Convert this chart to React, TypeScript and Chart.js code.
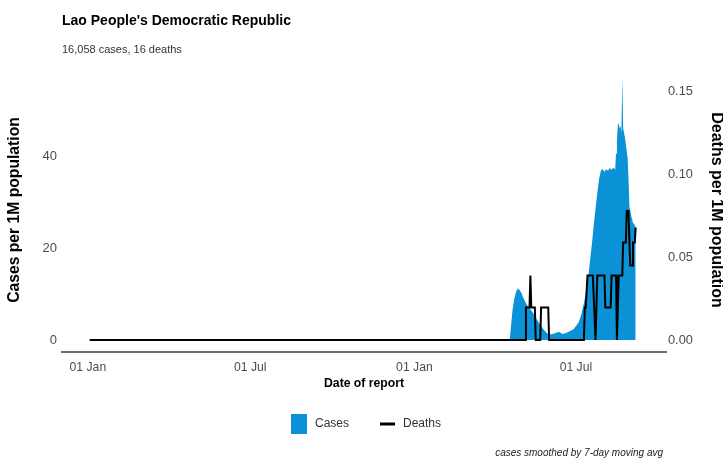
import React, { useEffect, useRef } from "react";
import { Chart, registerables } from "chart.js";

Chart.register(...registerables);

const TITLE = "Lao People's Democratic Republic";
const SUBTITLE = "16,058 cases, 16 deaths";
const CAPTION = "cases smoothed by 7-day moving avg";
const X_TITLE = "Date of report";
const Y_LEFT_TITLE = "Cases per 1M population";
const Y_RIGHT_TITLE = "Deaths per 1M population";

const ORIGIN_DATE = "2020-01-01";
const xTickDates = ["2020-01-01", "2020-07-01", "2021-01-01", "2021-07-01"];
const xTickLabels = ["01 Jan", "01 Jul", "01 Jan", "01 Jul"];
const leftTicks = [0, 20, 40];
const rightTicks = [0, 0.05, 0.1, 0.15];

const caseDates = [
  "2020-01-03", "2021-04-16", "2021-04-18", "2021-04-21", "2021-04-23", "2021-04-25",
  "2021-04-27", "2021-04-29", "2021-05-01", "2021-05-03", "2021-05-06", "2021-05-09",
  "2021-05-12", "2021-05-15", "2021-05-18", "2021-05-21", "2021-05-25", "2021-05-29",
  "2021-06-01", "2021-06-05", "2021-06-09", "2021-06-12", "2021-06-16", "2021-06-20",
  "2021-06-24", "2021-06-28", "2021-07-01", "2021-07-04", "2021-07-07", "2021-07-10",
  "2021-07-12", "2021-07-15", "2021-07-17", "2021-07-19", "2021-07-21", "2021-07-23",
  "2021-07-25", "2021-07-27", "2021-07-29", "2021-07-31", "2021-08-02", "2021-08-04",
  "2021-08-06", "2021-08-08", "2021-08-10", "2021-08-12", "2021-08-14", "2021-08-15",
  "2021-08-16", "2021-08-17", "2021-08-18", "2021-08-19", "2021-08-20", "2021-08-21",
  "2021-08-22", "2021-08-23", "2021-08-24", "2021-08-25", "2021-08-26", "2021-08-27",
  "2021-08-28", "2021-08-29", "2021-08-30", "2021-09-01", "2021-09-03", "2021-09-05",
  "2021-09-06",
];
const caseValues = [
  0, 0, 0.4, 6.5, 9.0, 10.5,
  11.2, 10.8, 10.2, 9.2, 8.0, 7.1,
  6.4, 5.6, 4.5, 3.6, 2.5, 1.6,
  1.2, 1.3, 1.6, 1.8, 1.3, 1.5,
  1.9, 2.3, 3.0, 3.8, 5.5, 8.0,
  10.0, 14.0, 17.5, 21.0, 25.0, 28.5,
  32.0, 35.0, 36.8, 37.2, 36.6, 37.1,
  36.8, 37.4, 37.0, 37.5, 37.0, 40.5,
  43.5, 46.5, 47.2, 46.0, 46.5, 45.0,
  57.0, 46.0, 45.0, 44.0, 42.5, 41.0,
  39.5, 35.0, 29.0, 27.0, 25.5, 25.0,
  24.5,
];

const deathDates = [
  "2020-01-03", "2021-05-05", "2021-05-06", "2021-05-10", "2021-05-11", "2021-05-12",
  "2021-05-16", "2021-05-17", "2021-05-22", "2021-05-23", "2021-05-31", "2021-06-01",
  "2021-07-10", "2021-07-11", "2021-07-12", "2021-07-14", "2021-07-20", "2021-07-23",
  "2021-07-25", "2021-08-02", "2021-08-03", "2021-08-09", "2021-08-10", "2021-08-15",
  "2021-08-16", "2021-08-18", "2021-08-22", "2021-08-23", "2021-08-26", "2021-08-27",
  "2021-08-29", "2021-08-30", "2021-08-31", "2021-09-02", "2021-09-03", "2021-09-05",
  "2021-09-06",
];
const deathValues = [
  0, 0, 0.0196, 0.0196, 0.039, 0.0196,
  0.0196, 0, 0, 0.0196, 0.0196, 0,
  0, 0.0196, 0.0196, 0.039, 0.039, 0,
  0.039, 0.039, 0.0196, 0.0196, 0.039, 0.039,
  0, 0.039, 0.039, 0.059, 0.059, 0.078,
  0.078, 0.059, 0.045, 0.045, 0.059, 0.059,
  0.068,
];

const CASES_COLOR = "#0b91d5";
const DEATHS_COLOR = "#000000";
const FONT = '"Liberation Sans", Arial, Helvetica, sans-serif';

function dayIndex(s: string): number {
  const [y, m, d] = s.split("-").map(Number);
  const [y0, m0, d0] = ORIGIN_DATE.split("-").map(Number);
  return Math.round((Date.UTC(y, m - 1, d) - Date.UTC(y0, m0 - 1, d0)) / 86400000);
}

const legendCaptionPlugin = {
  id: "legendCaption",
  afterDraw(chart: any) {
    const ctx = chart.ctx as CanvasRenderingContext2D;
    const { left, right } = chart.chartArea;
    const ds = chart.data.datasets;
    const cx = (left + right) / 2 + 2;
    const cy = chart.height - 42;
    ctx.save();
    ctx.font = `12px ${FONT}`;
    ctx.textBaseline = "middle";
    ctx.textAlign = "left";
    const w0 = ctx.measureText(ds[0].label).width;
    const w1 = ctx.measureText(ds[1].label).width;
    const total = 16 + 8 + w0 + 31 + 15 + 8 + w1;
    let x = cx - total / 2;
    ctx.fillStyle = ds[0].backgroundColor;
    ctx.fillRect(x, cy - 10, 16, 20);
    x += 24;
    ctx.fillStyle = "#333333";
    ctx.fillText(ds[0].label, x, cy);
    x += w0 + 31;
    ctx.strokeStyle = ds[1].borderColor;
    ctx.lineWidth = 3;
    ctx.beginPath();
    ctx.moveTo(x, cy);
    ctx.lineTo(x + 15, cy);
    ctx.stroke();
    x += 23;
    ctx.fillText(ds[1].label, x, cy);
    ctx.font = `italic 10px ${FONT}`;
    ctx.textAlign = "right";
    ctx.fillStyle = "#222222";
    ctx.fillText(CAPTION, right - 3, chart.height - 13);
    ctx.restore();
  },
};

export default function App() {
  const ref = useRef<HTMLCanvasElement>(null);

  useEffect(() => {
    Chart.defaults.font.family = FONT;
    const casePoints = caseDates.map((d, i) => ({ x: dayIndex(d), y: caseValues[i] }));
    const deathPoints = deathDates.map((d, i) => ({ x: dayIndex(d), y: deathValues[i] }));
    const xTickDays = xTickDates.map(dayIndex);

    const chart = new Chart(ref.current as HTMLCanvasElement, {
      type: "line",
      data: {
        datasets: [
          {
            label: "Cases",
            data: casePoints,
            yAxisID: "y",
            backgroundColor: CASES_COLOR,
            borderColor: CASES_COLOR,
            borderWidth: 0,
            fill: "origin",
            pointRadius: 0,
            tension: 0,
            order: 2,
          },
          {
            label: "Deaths",
            data: deathPoints,
            yAxisID: "y1",
            borderColor: DEATHS_COLOR,
            backgroundColor: DEATHS_COLOR,
            borderWidth: 2,
            fill: false,
            pointRadius: 0,
            tension: 0,
            order: 1,
          },
        ],
      },
      options: {
        responsive: false,
        animation: false,
        devicePixelRatio: 1,
        layout: { padding: { left: 0, right: 0, top: 0, bottom: 72 } },
        plugins: {
          legend: { display: false },
          tooltip: { enabled: false },
          title: {
            display: true,
            text: TITLE,
            align: "start",
            fullSize: false,
            color: "#000000",
            font: { size: 14, weight: "bold" },
            padding: { top: 12.6, bottom: 10 },
          },
          subtitle: {
            display: true,
            text: SUBTITLE,
            align: "start",
            fullSize: false,
            color: "#333333",
            font: { size: 11 },
            padding: { top: 4, bottom: 11.4 },
          },
        },
        scales: {
          x: {
            type: "linear",
            min: -29,
            max: 648,
            grid: { display: false, drawTicks: false },
            border: { display: true, color: "#6e6e6e", width: 2 },
            afterBuildTicks: (scale: any) => {
              scale.ticks = xTickDays.map((v) => ({ value: v }));
            },
            afterFit: (scale: any) => {
              scale.height = 42;
            },
            ticks: {
              autoSkip: false,
              maxRotation: 0,
              padding: 8,
              color: "#4d4d4d",
              font: { size: 12.2 },
              callback: (value: any) => {
                const i = xTickDays.indexOf(Number(value));
                return i >= 0 ? xTickLabels[i] : "";
              },
            },
            title: {
              display: true,
              text: X_TITLE,
              color: "#000000",
              font: { size: 12.2, weight: "bold" },
              padding: { top: 0, bottom: 3 },
            },
          },
          y: {
            type: "linear",
            position: "left",
            min: -2.61,
            max: 59.13,
            grid: { display: false, drawTicks: false },
            border: { display: false },
            afterBuildTicks: (scale: any) => {
              scale.ticks = leftTicks.map((v) => ({ value: v }));
            },
            afterFit: (scale: any) => {
              scale.width = 62;
            },
            ticks: {
              padding: 5,
              color: "#4d4d4d",
              font: { size: 13 },
              callback: (value: any) => String(value),
            },
            title: {
              display: true,
              text: Y_LEFT_TITLE,
              color: "#000000",
              font: { size: 15.7, weight: "bold" },
              padding: { top: 5.5, bottom: 0 },
            },
          },
          y1: {
            type: "linear",
            position: "right",
            min: -0.00726,
            max: 0.1645,
            grid: { display: false, drawTicks: false },
            border: { display: false },
            afterBuildTicks: (scale: any) => {
              scale.ticks = rightTicks.map((v) => ({ value: v }));
            },
            afterFit: (scale: any) => {
              scale.width = 57;
            },
            ticks: {
              padding: 2,
              color: "#4d4d4d",
              font: { size: 12.8 },
              callback: (value: any) => Number(value).toFixed(2),
            },
            title: {
              display: true,
              text: Y_RIGHT_TITLE,
              color: "#000000",
              font: { size: 16, weight: "bold", lineHeight: 0.8 },
              padding: { top: 0, bottom: 0 },
            },
          },
        },
      } as any,
      plugins: [legendCaptionPlugin],
    });
    return () => chart.destroy();
  }, []);

  return (
    <div style={{ position: "absolute", left: 0, top: 0, width: 723, height: 466 }}>
      <canvas ref={ref} width={723} height={466} style={{ display: "block" }} />
    </div>
  );
}
